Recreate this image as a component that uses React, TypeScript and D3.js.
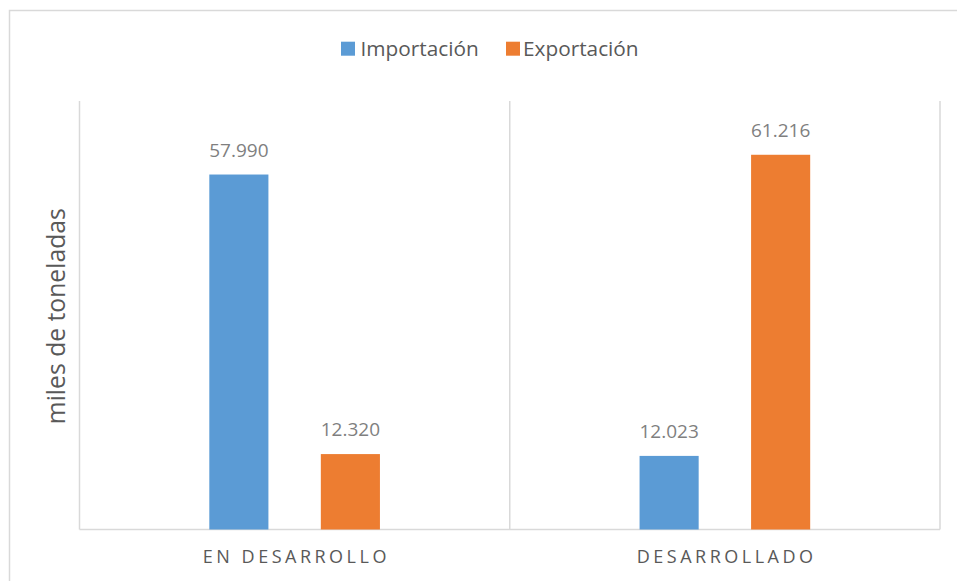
import React from "react";
import * as d3 from "d3";

const categories = ["EN DESARROLLO", "DESARROLLADO"];
const series = ["Importación", "Exportación"];
const importacion = [57990, 12023];
const exportacion = [12320, 61216];
const labels = [["57.990", "12.320"], ["12.023", "61.216"]];
const colors = ["#5B9BD5", "#ED7D31"];
const yMax = 70000;

const W = 957;
const H = 581;
const left = 79.5;
const right = 940;
const top = 101;
const bottom = 529.5;
const FONT = "'Open Sans', sans-serif";

export default function App() {
  const x0 = d3.scaleBand<string>().domain(categories).range([left, right]).padding(0);
  const x1 = d3
    .scaleBand<string>()
    .domain(series)
    .range([0, x0.bandwidth()])
    .paddingInner(0.47)
    .paddingOuter(1.164);
  const y = d3.scaleLinear().domain([0, yMax]).range([bottom, top]);
  const values = [importacion, exportacion];
  const boundaries = [...categories.map((c) => x0(c) as number), right];

  return (
    <svg width={W} height={H} style={{ position: "absolute", left: 0, top: 0, background: "#fff" }}>
      <rect x={9.5} y={10.5} width={1200} height={1200} fill="#fff" stroke="#d9d9d9" strokeWidth={1.5} />
      {/* legend */}
      <g fontFamily={FONT} fontSize={20.8} fill="#595959">
        <rect x={341} y={41.7} width={14} height={14} fill={colors[0]} />
        <text x={360.5} y={56}>{series[0]}</text>
        <rect x={506} y={41.7} width={14} height={14} fill={colors[1]} />
        <text x={523} y={56}>{series[1]}</text>
      </g>
      {/* axis lines */}
      {boundaries.map((bx, i) => (
        <line key={i} x1={bx} x2={bx} y1={top} y2={bottom} stroke="#d9d9d9" strokeWidth={1.5} />
      ))}
      <line x1={left} x2={right} y1={bottom} y2={bottom} stroke="#d9d9d9" strokeWidth={1.5} />
      {/* bars */}
      {categories.map((c, ci) =>
        series.map((s, si) => {
          const v = values[si][ci];
          const bx = (x0(c) as number) + (x1(s) as number);
          const by = y(v);
          return (
            <g key={c + s}>
              <rect x={bx} y={by} width={x1.bandwidth()} height={bottom - by} fill={colors[si]} />
              <text
                x={bx + x1.bandwidth() / 2}
                y={by - 17.6}
                textAnchor="middle"
                fontFamily={FONT}
                fontSize={19}
                fill="#7f7f7f"
              >
                {labels[ci][si]}
              </text>
            </g>
          );
        })
      )}
      {/* category labels */}
      {categories.map((c) => (
        <text
          key={c}
          x={(x0(c) as number) + x0.bandwidth() / 2 + 1.75}
          y={563}
          textAnchor="middle"
          fontFamily={FONT}
          fontSize={18}
          letterSpacing={3.5}
          fill="#595959"
        >
          {c}
        </text>
      ))}
      {/* y title */}
      <text
        transform={`translate(65, ${(top + bottom) / 2 + 1}) rotate(-90)`}
        textAnchor="middle"
        fontFamily={FONT}
        fontSize={24.7}
        fill="#595959"
      >
        miles de toneladas
      </text>
    </svg>
  );
}
